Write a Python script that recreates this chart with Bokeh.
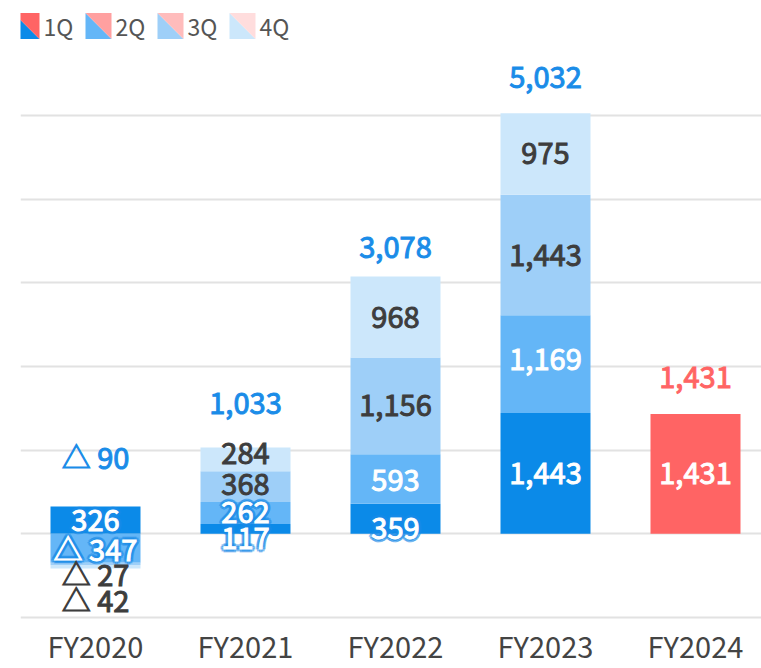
from bokeh.plotting import figure
from bokeh.models import Range1d, FixedTicker, Grid, ColumnDataSource
from bokeh.embed import file_html
from bokeh.resources import INLINE
from bokeh.core.properties import value

# ---- data ----
years = ["FY2020", "FY2021", "FY2022", "FY2023", "FY2024"]
quarters = ["1Q", "2Q", "3Q", "4Q"]
q1 = [326, 117, 359, 1443, 1431]
q2 = [-347, 262, 593, 1169, None]
q3 = [-27, 368, 1156, 1443, None]
q4 = [-42, 284, 968, 975, None]
totals = [-90, 1033, 3078, 5032, 1431]
grid_ticks = [-1000, 0, 1000, 2000, 3000, 4000, 5000]

# ---- styles ----
FONT = value("Noto Sans CJK JP")
blue_cols = ["#0b8ae8", "#64b6f7", "#9ecff8", "#cce7fb"]
red_cols = ["#ff6464", "#ffa0a0", "#ffbcbc", "#ffdddd"]
red_year = "FY2024"
dark = "#3d3d3d"
LBL = "29px"
seg_off = [[0, 0, 9, 32], [10, 0, -2, -6], [10, 2, 0, 0], [0, -5, 0, 0], [0, 0, 0, 0]]
seg_glow = [[1, 1, 0, 0], [1, 1, 0, 0], [1, 0, 0, 0], [0, 0, 0, 0], [0, 0, 0, 0]]
tot_off = [-50, -44, -29, -36, -37]


def fmt(v):
    s = f"{abs(v):,}"
    return ("△ " + s) if v < 0 else s


series = [q1, q2, q3, q4]
bars = dict(x=[], bottom=[], top=[], color=[])
labs = dict(x=[], y=[], text=[], color=[], yoff=[])
glow = dict(x=[], y=[], text=[], yoff=[])
tots = dict(x=[], y=[], text=[], color=[], yoff=[])
for i, yr in enumerate(years):
    pos, neg = 0, 0
    cols = red_cols if yr == red_year else blue_cols
    for qi, s in enumerate(series):
        v = s[i]
        if v is None:
            continue
        if v >= 0:
            b, t = pos, pos + v
            pos = t
        else:
            b, t = neg + v, neg
            neg = b
        bars["x"].append(i); bars["bottom"].append(b); bars["top"].append(t)
        bars["color"].append(cols[qi])
        labs["x"].append(i); labs["y"].append((b + t) / 2); labs["text"].append(fmt(v))
        labs["color"].append("white" if qi < 2 else dark)
        labs["yoff"].append(seg_off[i][qi])
        if seg_glow[i][qi]:
            glow["x"].append(i); glow["y"].append((b + t) / 2)
            glow["text"].append(fmt(v)); glow["yoff"].append(seg_off[i][qi])
    tots["x"].append(i); tots["y"].append(pos); tots["text"].append(fmt(totals[i]))
    tots["color"].append(red_cols[0] if yr == red_year else "#1a8ce8")
    tots["yoff"].append(tot_off[i])

# ---- geometry ----
W, H = 761, 668
left = 20
AXIS_H = 43.5                    # approx height taken by x axis labels
FH = H - AXIS_H                  # frame height (frame top = canvas top)
PX = 150.0                       # px per category
PPU = 83.8 / 1000.0              # px per value unit
ZERO_Y = 534.5                   # zero line, px from canvas top
x_start = -0.5
x_end = x_start + (W - left) / PX
y_end = ZERO_Y / PPU
y_start = -(FH - ZERO_Y) / PPU

p = figure(width=W, height=H, x_range=Range1d(x_start, x_end),
           y_range=Range1d(y_start, y_end), output_backend="svg",
           toolbar_location=None, y_axis_location=None,
           min_border_left=left, min_border_right=0, min_border_top=0,
           min_border_bottom=0)
p.outline_line_color = None
for g in p.grid:
    g.visible = False
p.extra_x_ranges = {"px": Range1d(left, W)}
p.extra_y_ranges = {"py": Range1d(FH, 0)}
p.add_layout(Grid(dimension=1, ticker=FixedTicker(ticks=grid_ticks),
                  grid_line_color="#e2e2e2", grid_line_width=2))
ax = p.xaxis[0]
ax.ticker = FixedTicker(ticks=list(range(len(years))))
ax.major_label_overrides = {i: y for i, y in enumerate(years)}
ax.axis_line_color = None
ax.major_tick_line_color = None
ax.minor_tick_line_color = None
ax.major_tick_out = 0
ax.major_tick_in = 0
ax.major_label_standoff = 0
ax.major_label_text_font = "Noto Sans CJK JP"
ax.major_label_text_font_size = "29px"
ax.major_label_text_color = "#444444"

# ---- legend (pixel coordinates) ----
s = 26
lx, ly, lt = [], [], []
for k, q in enumerate(quarters):
    x0, y0 = 13 + 72 * k, 12.5
    p.patch([x0, x0, x0 + s], [y0, y0 + s, y0 + s], color=blue_cols[k], line_width=0,
            x_range_name="px", y_range_name="py")
    p.patch([x0, x0 + s, x0 + s], [y0, y0, y0 + s], color=red_cols[k], line_width=0,
            x_range_name="px", y_range_name="py")
    lx.append(x0 + s + 4); ly.append(y0 + s / 2); lt.append(q)
p.text(x=lx, y=ly, text=lt, text_font=FONT, text_font_size="23px",
       text_color="#555555", text_baseline="middle", text_align="left",
       x_range_name="px", y_range_name="py")

# ---- bars & labels ----
p.vbar(x="x", bottom="bottom", top="top", width=0.6, color="color",
       line_width=0, source=ColumnDataSource(bars))

glow_dirs = [(-3, 0), (3, 0), (0, -3), (0, 3), (-2, -2), (2, -2), (-2, 2), (2, 2)]
for dx, dy in glow_dirs:
    g = dict(glow)
    g["yoff2"] = [o + dy for o in glow["yoff"]]
    p.text(x="x", y="y", text="text", source=ColumnDataSource(g), x_offset=dx,
           y_offset="yoff2", text_font=FONT, text_font_size=LBL,
           text_color="#1a8ce8", text_outline_color="#1a8ce8", text_alpha=0.4,
           text_align="center", text_baseline="middle")

p.text(x="x", y="y", text="text", text_color="color", text_outline_color="color",
       y_offset="yoff", source=ColumnDataSource(labs), text_font=FONT,
       text_font_size=LBL, text_align="center", text_baseline="middle")
p.text(x="x", y="y", text="text", text_color="color", text_outline_color="color",
       y_offset="yoff", source=ColumnDataSource(tots), text_font=FONT,
       text_font_size=LBL, text_align="center", text_baseline="middle")

open("out.html", "w").write(file_html(p, INLINE))
